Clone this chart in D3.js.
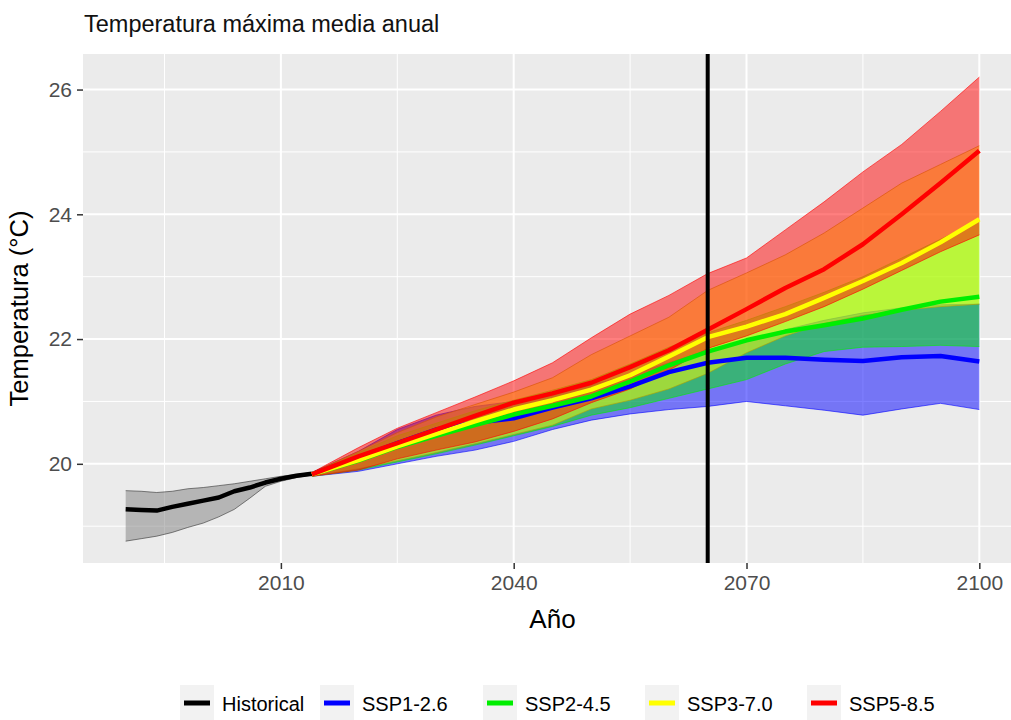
<!DOCTYPE html>
<html><head><meta charset="utf-8">
<script src="https://cdn.jsdelivr.net/npm/d3@7"></script>
<style>body{margin:0;background:#fff}svg{display:block;font-family:"Liberation Sans",Arial,sans-serif}</style>
</head><body>
<svg id="c" width="1011" height="720"></svg>
<script>
// ---- data ----
const histYears = [1990,1992,1994,1996,1998,2000,2002,2004,2006,2008,2010,2012,2014];
const histMean  = [19.27,19.26,19.25,19.31,19.36,19.41,19.46,19.56,19.62,19.70,19.76,19.81,19.84];
const histUpper = [19.57,19.56,19.54,19.56,19.60,19.62,19.65,19.68,19.72,19.76,19.80,19.83,19.86];
const histLower = [18.76,18.80,18.84,18.90,18.98,19.05,19.15,19.27,19.45,19.64,19.72,19.78,19.82];

const scenYears = [2014,2020,2025,2030,2035,2040,2045,2050,2055,2060,2065,2070,2075,2080,2085,2090,2095,2100];

const ssp126Mean  = [19.83,20.10,20.33,20.55,20.66,20.73,20.90,21.05,21.24,21.47,21.62,21.70,21.70,21.67,21.65,21.71,21.73,21.64];
const ssp126Upper = [19.86,20.20,20.55,20.78,20.92,21.00,21.12,21.27,21.42,21.62,21.82,21.97,22.15,22.30,22.42,22.50,22.55,22.56];
const ssp126Lower = [19.80,19.88,20.00,20.12,20.22,20.36,20.55,20.70,20.80,20.87,20.92,21.00,20.93,20.86,20.78,20.88,20.97,20.87];

const ssp245Mean  = [19.83,20.05,20.27,20.45,20.62,20.79,20.93,21.08,21.32,21.58,21.80,21.98,22.12,22.22,22.33,22.47,22.60,22.68];
const ssp245Upper = [19.86,20.18,20.45,20.65,20.85,21.02,21.18,21.35,21.60,21.87,22.10,22.30,22.52,22.75,23.00,23.30,23.60,23.90];
const ssp245Lower = [19.80,19.90,20.03,20.16,20.30,20.45,20.60,20.78,20.90,21.05,21.20,21.35,21.60,21.80,21.87,21.88,21.90,21.88];

const ssp370Mean  = [19.83,20.06,20.28,20.48,20.68,20.87,21.02,21.19,21.42,21.72,22.03,22.20,22.40,22.66,22.93,23.22,23.55,23.92];
const ssp370Upper = [19.86,20.20,20.50,20.75,20.95,21.15,21.38,21.75,22.05,22.35,22.78,23.06,23.35,23.70,24.10,24.50,24.80,25.10];
const ssp370Lower = [19.80,19.92,20.05,20.18,20.32,20.47,20.62,20.88,21.02,21.20,21.45,21.78,22.05,22.25,22.38,22.46,22.52,22.56];

const ssp585Mean  = [19.83,20.12,20.33,20.55,20.77,20.98,21.13,21.30,21.55,21.82,22.15,22.48,22.82,23.12,23.52,24.00,24.50,25.02];
const ssp585Upper = [19.86,20.26,20.57,20.82,21.07,21.33,21.62,22.02,22.40,22.70,23.05,23.30,23.75,24.20,24.68,25.12,25.65,26.20];
const ssp585Lower = [19.80,19.90,20.08,20.22,20.35,20.52,20.72,20.98,21.20,21.50,21.85,22.05,22.28,22.52,22.80,23.10,23.40,23.67];

const legendLabels = ["Historical","SSP1-2.6","SSP2-4.5","SSP3-7.0","SSP5-8.5"];
const seriesColors = ["#000000","#0000FF","#00EE00","#FFFF00","#FF0000"];
const xMajor = [2010,2040,2070,2100];
const xMinor = [1995,2025,2055,2085];
const yMajor = [20,22,24,26];
const yMinor = [19,21,23,25];
const refYear = 2065;
const titleText = "Temperatura máxima media anual";
const xTitle = "Año";
const yTitle = "Temperatura (°C)";

// ---- drawing ----
const svg = d3.select("#c");
const P = {l:83, r:1022, t:54, b:563};
const x = d3.scaleLinear().domain([1984.5,2105.5]).range([P.l,P.r]);
const y = d3.scaleLinear().domain([18.41,26.57]).range([P.b,P.t]);

svg.append("rect").attr("x",P.l).attr("y",P.t).attr("width",P.r-P.l).attr("height",P.b-P.t).attr("fill","#EBEBEB");

const grid = svg.append("g");
grid.selectAll(".xmin").data(xMinor).join("line").attr("x1",d=>x(d)).attr("x2",d=>x(d)).attr("y1",P.t).attr("y2",P.b).attr("stroke","#fff").attr("stroke-width",1);
grid.selectAll(".ymin").data(yMinor).join("line").attr("y1",d=>y(d)).attr("y2",d=>y(d)).attr("x1",P.l).attr("x2",P.r).attr("stroke","#fff").attr("stroke-width",1);
grid.selectAll(".xmaj").data(xMajor).join("line").attr("x1",d=>x(d)).attr("x2",d=>x(d)).attr("y1",P.t).attr("y2",P.b).attr("stroke","#fff").attr("stroke-width",2);
grid.selectAll(".ymaj").data(yMajor).join("line").attr("y1",d=>y(d)).attr("y2",d=>y(d)).attr("x1",P.l).attr("x2",P.r).attr("stroke","#fff").attr("stroke-width",2);

function pts(years, vals){ return years.map((yr,i)=>[yr, vals[i]]); }
const area = d3.area().x(d=>x(d[0])).y0(d=>y(d[1])).y1(d=>y(d[2]));
const line = d3.line().x(d=>x(d[0])).y(d=>y(d[1]));

const ribbons = [
  {years:histYears, lo:histLower, hi:histUpper, fill:"#808080", stroke:"#333"},
  {years:scenYears, lo:ssp126Lower, hi:ssp126Upper, fill:seriesColors[1], stroke:seriesColors[1]},
  {years:scenYears, lo:ssp245Lower, hi:ssp245Upper, fill:seriesColors[2], stroke:seriesColors[2]},
  {years:scenYears, lo:ssp370Lower, hi:ssp370Upper, fill:seriesColors[3], stroke:"#b0a000"},
  {years:scenYears, lo:ssp585Lower, hi:ssp585Upper, fill:seriesColors[4], stroke:seriesColors[4]}
];
const rg = svg.append("g");
ribbons.forEach(r=>{
  const d = r.years.map((yr,i)=>[yr, r.lo[i], r.hi[i]]);
  rg.append("path").attr("d",area(d)).attr("fill",r.fill).attr("fill-opacity",0.5).attr("stroke","none");
  rg.append("path").attr("d",line(pts(r.years,r.lo))).attr("fill","none").attr("stroke",r.stroke).attr("stroke-opacity",0.75).attr("stroke-width",0.8);
  rg.append("path").attr("d",line(pts(r.years,r.hi))).attr("fill","none").attr("stroke",r.stroke).attr("stroke-opacity",0.75).attr("stroke-width",0.8);
});

const lines = [
  {years:histYears, v:histMean, c:seriesColors[0]},
  {years:scenYears, v:ssp126Mean, c:seriesColors[1]},
  {years:scenYears, v:ssp245Mean, c:seriesColors[2]},
  {years:scenYears, v:ssp370Mean, c:seriesColors[3]},
  {years:scenYears, v:ssp585Mean, c:seriesColors[4]}
];
const lg = svg.append("g");
lines.forEach(l=>{
  lg.append("path").attr("d",line(pts(l.years,l.v))).attr("fill","none").attr("stroke",l.c).attr("stroke-width",4.5).attr("stroke-linejoin","round");
});

svg.append("line").attr("x1",x(refYear)).attr("x2",x(refYear)).attr("y1",P.t).attr("y2",P.b).attr("stroke","#000").attr("stroke-width",4);

// axes
const xa = svg.append("g").attr("transform",`translate(0,${P.b})`)
  .call(d3.axisBottom(x).tickValues(xMajor).tickFormat(d3.format("d")).tickSize(6).tickPadding(6));
const ya = svg.append("g").attr("transform",`translate(${P.l},0)`)
  .call(d3.axisLeft(y).tickValues(yMajor).tickSize(6).tickPadding(5));
[xa,ya].forEach(a=>{
  a.select(".domain").remove();
  a.selectAll(".tick line").attr("stroke","#333").attr("stroke-width",1.5);
  a.selectAll(".tick text").attr("fill","#4D4D4D").attr("font-size",21).attr("font-family","Liberation Sans, Arial, sans-serif");
});

svg.append("text").attr("x",84).attr("y",32).attr("font-size",23.5).attr("fill","#111").text(titleText);
svg.append("text").attr("x",(P.l+P.r)/2).attr("y",628).attr("text-anchor","middle").attr("font-size",26).attr("fill","#000").text(xTitle);
svg.append("text").attr("transform",`translate(28,${(P.t+P.b)/2}) rotate(-90)`).attr("text-anchor","middle").attr("font-size",25.5).attr("fill","#000").text(yTitle);

// legend
const legX = [180,320,483,645,807];
const leg = svg.append("g");
legendLabels.forEach((lab,i)=>{
  const g = leg.append("g").attr("transform",`translate(${legX[i]},703)`);
  g.append("rect").attr("x",0).attr("y",-18).attr("width",34).attr("height",36).attr("fill","#F2F2F2");
  g.append("line").attr("x1",4).attr("x2",30).attr("y1",0).attr("y2",0).attr("stroke",seriesColors[i]).attr("stroke-width",5);
  g.append("text").attr("x",42).attr("y",7.5).attr("font-size",20).attr("fill","#000").text(lab);
});
</script>
</body></html>
